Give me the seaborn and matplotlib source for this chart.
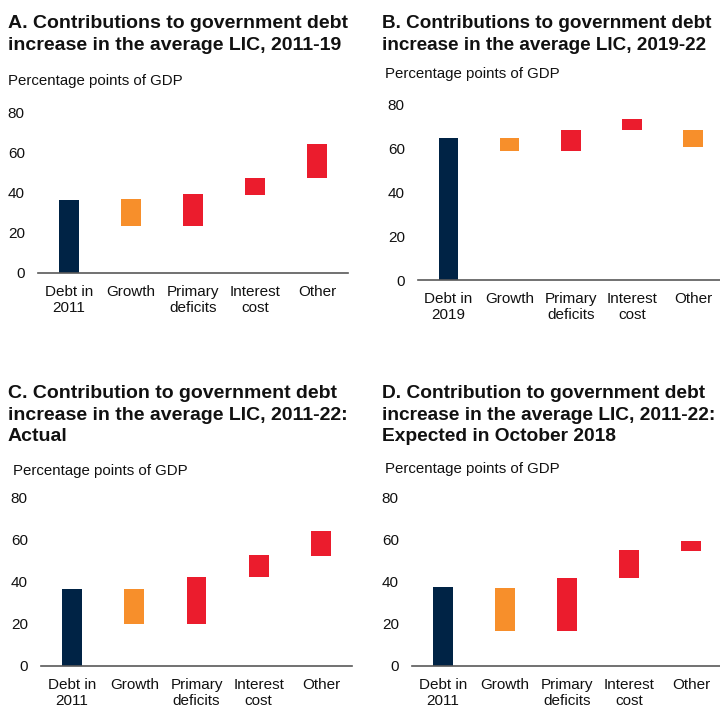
import pandas as pd
import seaborn as sns
import matplotlib.pyplot as plt

sns.set_theme(style="white")
plt.rcParams["font.family"] = ["Liberation Sans", "DejaVu Sans"]

# Waterfall values (percentage points of GDP)
labels_2011 = ["Debt in\n2011", "Growth", "Primary\ndeficits", "Interest\ncost", "Other"]
labels_2019 = ["Debt in\n2019", "Growth", "Primary\ndeficits", "Interest\ncost", "Other"]

a_low = [0, 23.7, 23.7, 39.2, 47.7]
a_high = [36.7, 37.2, 39.7, 47.7, 64.7]
a_kind = ["debt", "down", "up", "up", "up"]

b_low = [0, 59.0, 59.0, 68.6, 60.8]
b_high = [64.9, 64.9, 68.6, 73.6, 68.6]
b_kind = ["debt", "down", "up", "up", "down"]

c_low = [0, 19.8, 19.8, 42.1, 52.1]
c_high = [36.4, 36.4, 42.1, 52.6, 64.0]
c_kind = ["debt", "down", "up", "up", "up"]

d_low = [0, 16.5, 16.5, 41.7, 54.5]
d_high = [37.4, 36.9, 41.7, 55.0, 59.2]
d_kind = ["debt", "down", "up", "up", "up"]

titles = [
    "A. Contributions to government debt\nincrease in the average LIC, 2011-19",
    "B. Contributions to government debt\nincrease in the average LIC, 2019-22",
    "C. Contribution to government debt\nincrease in the average LIC, 2011-22:\nActual",
    "D. Contribution to government debt\nincrease in the average LIC, 2011-22:\nExpected in October 2018",
]

colors = {"debt": "#002345", "down": "#F78F2B", "up": "#EB1C2D"}

W, H = 720, 709


def px_box(left, right, bottom, top):
    """Convert pixel box to figure fractions"""
    return [left / W, (H - bottom) / H, (right - left) / W, (bottom - top) / H]


def waterfall(fig, box, labels, low, high, kind):
    ax = fig.add_axes(box)
    df = pd.DataFrame({"label": labels, "low": low, "high": high,
                       "kind": kind})
    df["size"] = df["high"] - df["low"]
    sns.barplot(x="label", y="size", data=df, order=labels,
                bottom=df["low"].values, color=colors["debt"], saturation=1,
                width=0.32, errorbar=None, ax=ax, linewidth=0)
    for patch, k in zip(ax.patches, df["kind"]):
        patch.set_facecolor(colors[k])
        patch.set_edgecolor(colors[k])
    ax.set_ylim(0, 80)
    ax.set_xlim(-0.5, 4.5)
    ax.set_yticks([0, 20, 40, 60, 80])
    ax.set_xlabel("")
    ax.set_ylabel("")
    sns.despine(ax=ax, left=True)
    ax.spines["bottom"].set_color("#595959")
    ax.spines["bottom"].set_linewidth(1.2)
    ax.tick_params(axis="y", length=0, pad=9.5, labelsize=11,
                   labelcolor="#111111")
    ax.tick_params(axis="x", length=0, pad=8.7, labelsize=11,
                   labelcolor="#111111")
    ax.grid(False)
    return ax


fig = plt.figure(figsize=(W / 100, H / 100), dpi=100)

waterfall(fig, px_box(38, 348, 273, 113), labels_2011, a_low, a_high, a_kind)
waterfall(fig, px_box(418, 723.5, 280, 105), labels_2019, b_low, b_high,
          b_kind)
waterfall(fig, px_box(41, 352, 665.7, 497.3), labels_2011, c_low, c_high,
          c_kind)
waterfall(fig, px_box(412, 722, 665.7, 497.3), labels_2011, d_low, d_high,
          d_kind)

title_pos = [(8, 15), (382, 15), (8, 385), (382, 385)]
title_size = [14.0, 13.6, 14.0, 13.8]
for (x, y), t, s in zip(title_pos, titles, title_size):
    fig.text(x / W, 1 - y / H, t, ha="left", va="top", fontsize=s,
             fontweight="bold", color="#111111", linespacing=1.36)

sub_pos = [(8, 85), (385, 78), (13, 475), (385, 473)]
for x, y in sub_pos:
    fig.text(x / W, 1 - y / H, "Percentage points of GDP", ha="left",
             va="baseline", fontsize=10.8, color="#111111")

fig.savefig("out.png", dpi=100)
